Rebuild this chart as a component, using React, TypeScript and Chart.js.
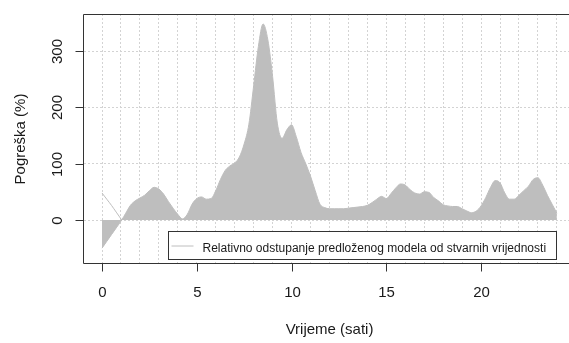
import React, { useEffect, useRef } from 'react';
import { Chart, registerables } from 'chart.js';

Chart.register(...registerables);

// Hours of the day (x) and relative error in % (y)
const hours = [
  0, 0.25, 0.5, 0.75, 1.04, 1.25, 1.5, 1.75, 2, 2.25, 2.5, 2.75, 3, 3.25, 3.5, 3.75,
  4, 4.25, 4.5, 4.75, 5, 5.25, 5.5, 5.75, 6, 6.25, 6.5, 6.75, 7, 7.25, 7.5, 7.75,
  8, 8.25, 8.5, 8.75, 9, 9.25, 9.5, 9.75, 10, 10.25, 10.5, 10.75, 11, 11.25, 11.5, 11.75,
  12, 12.25, 12.5, 12.75, 13, 13.25, 13.5, 13.75, 14, 14.25, 14.5, 14.75, 15, 15.25, 15.5, 15.75,
  16, 16.25, 16.5, 16.75, 17, 17.25, 17.5, 17.75, 18, 18.25, 18.5, 18.75, 19, 19.25, 19.5, 19.75,
  20, 20.25, 20.5, 20.75, 21, 21.25, 21.5, 21.75, 22, 22.25, 22.5, 22.75, 23, 23.25, 23.5, 23.75, 24,
];
const errorValues = [
  -50, -38, -26, -14, 0, 12, 26, 34, 39, 44, 52, 58, 55, 46, 33, 21,
  10, 2, 10, 28, 38, 41, 37, 38, 52, 72, 88, 96, 101, 112, 135, 170,
  238, 308, 348, 320, 255, 172, 145, 160, 169, 148, 120, 100, 78, 52, 28, 22,
  20, 20, 20, 20, 21, 22, 23, 24, 26, 31, 37, 42, 38, 47, 57, 64,
  62, 54, 48, 46, 50, 49, 40, 34, 27, 25, 24, 24, 20, 16, 13, 16,
  25, 40, 58, 70, 66, 48, 37, 37, 44, 52, 60, 72, 75, 62, 44, 28, 12,
];
// thin line visible at the start of the day
const startLineHours = [0, 0.25, 0.5, 0.75, 1.04];
const startLineValues = [48, 37, 26, 14, 0];

const xTickValues = [0, 5, 10, 15, 20];
const yTickValues = [0, 100, 200, 300];
const xGridHours = [0, 1, 2, 3, 4, 5, 6, 7, 8, 9, 10, 11, 12, 13, 14, 15, 16, 17, 18, 19, 20, 21, 22, 23, 24];

const xTitle = 'Vrijeme (sati)';
const yTitle = 'Pogreška (%)';
const legendLabel = 'Relativno odstupanje predloženog modela od stvarnih vrijednosti';

const FONT = '"Liberation Sans", Arial, sans-serif';
const TEXT = '#1a1a1a';
const AXIS = '#333333';
const GREY = '#bebebe';

const decor = {
  id: 'rDecor',
  afterDraw(chart: any) {
    const { ctx, chartArea: a, scales } = chart;
    const x = scales.x;
    const y = scales.y;
    ctx.save();
    ctx.strokeStyle = AXIS;
    ctx.lineWidth = 1;
    // box (right side is outside the canvas)
    const L = Math.round(a.left) - 0.5;
    const T = Math.round(a.top) + 0.5;
    const B = Math.round(a.bottom) - 0.5;
    ctx.beginPath();
    ctx.moveTo(a.right + 10, T);
    ctx.lineTo(L, T);
    ctx.lineTo(L, B);
    ctx.lineTo(a.right + 10, B);
    ctx.stroke();

    // x ticks + labels
    ctx.fillStyle = TEXT;
    ctx.font = `15px ${FONT}`;
    ctx.textAlign = 'center';
    ctx.textBaseline = 'alphabetic';
    xTickValues.forEach((v) => {
      const px = Math.round(x.getPixelForValue(v)) + 0.5;
      ctx.beginPath();
      ctx.moveTo(px, B);
      ctx.lineTo(px, B + 8);
      ctx.stroke();
      ctx.fillText(String(v), px, 297);
    });
    // y ticks + rotated labels
    yTickValues.forEach((v) => {
      const py = Math.round(y.getPixelForValue(v)) + 0.5;
      ctx.beginPath();
      ctx.moveTo(L - 8, py);
      ctx.lineTo(L, py);
      ctx.stroke();
      ctx.save();
      ctx.translate(61.5, py);
      ctx.rotate(-Math.PI / 2);
      ctx.fillText(String(v), 0, 0);
      ctx.restore();
    });
    // axis titles
    ctx.fillText(xTitle, (a.left + x.getPixelForValue(24.96)) / 2, 334);
    ctx.save();
    ctx.translate(24.5, (a.top + a.bottom) / 2);
    ctx.rotate(-Math.PI / 2);
    ctx.fillText(yTitle, 0, 0);
    ctx.restore();

    // legend
    ctx.font = `12px ${FONT}`;
    const right = Math.round(x.getPixelForValue(24)) - 0.5;
    const left = right - 388;
    const top = B - 32;
    const bottom = B - 4;
    ctx.fillStyle = '#ffffff';
    ctx.fillRect(left, top, right - left, bottom - top);
    ctx.strokeStyle = AXIS;
    ctx.strokeRect(left, top, right - left, bottom - top);
    ctx.strokeStyle = GREY;
    ctx.beginPath();
    ctx.moveTo(left + 3, top + 14.5);
    ctx.lineTo(left + 25, top + 14.5);
    ctx.stroke();
    ctx.fillStyle = TEXT;
    ctx.textAlign = 'left';
    ctx.fillText(legendLabel, left + 34, top + 20.5);
    ctx.restore();
  },
};

export default function App() {
  const ref = useRef<HTMLCanvasElement | null>(null);
  useEffect(() => {
    if (!ref.current) return;
    const chart = new Chart(ref.current, {
      type: 'line',
      data: {
        datasets: [
          {
            label: legendLabel,
            data: hours.map((h, i) => ({ x: h, y: errorValues[i] })),
            fill: 'origin',
            backgroundColor: GREY,
            borderColor: GREY,
            borderWidth: 1,
            pointRadius: 0,
            cubicInterpolationMode: 'monotone',
          },
          {
            label: 'start',
            data: startLineHours.map((h, i) => ({ x: h, y: startLineValues[i] })),
            fill: false,
            borderColor: GREY,
            borderWidth: 1,
            pointRadius: 0,
            tension: 0.3,
          },
        ],
      },
      options: {
        responsive: false,
        animation: false,
        devicePixelRatio: 1,
        layout: { padding: { top: 14, right: 0, bottom: 0, left: 0 } },
        plugins: { legend: { display: false }, tooltip: { enabled: false } },
        scales: {
          x: {
            type: 'linear',
            min: -0.95,
            max: 24.64,
            afterFit: (s: any) => { s.height = 79; },
            afterBuildTicks: (s: any) => { s.ticks = xGridHours.map((v) => ({ value: v })); },
            ticks: { display: false },
            grid: { color: '#d3d3d3', lineWidth: 1, drawTicks: false },
            border: { display: false, dash: [2, 2] },
          },
          y: {
            type: 'linear',
            min: -78.1,
            max: 365.7,
            afterFit: (s: any) => { s.width = 84; },
            afterBuildTicks: (s: any) => { s.ticks = yTickValues.map((v) => ({ value: v })); },
            ticks: { display: false },
            grid: { color: '#d3d3d3', lineWidth: 1, drawTicks: false },
            border: { display: false, dash: [2, 2] },
          },
        },
      },
      plugins: [decor],
    } as any);
    return () => chart.destroy();
  }, []);
  return (
    <div style={{ position: 'fixed', left: 0, top: 0, width: 569, height: 343, background: '#fff' }}>
      <canvas ref={ref} width={569} height={343} />
    </div>
  );
}
